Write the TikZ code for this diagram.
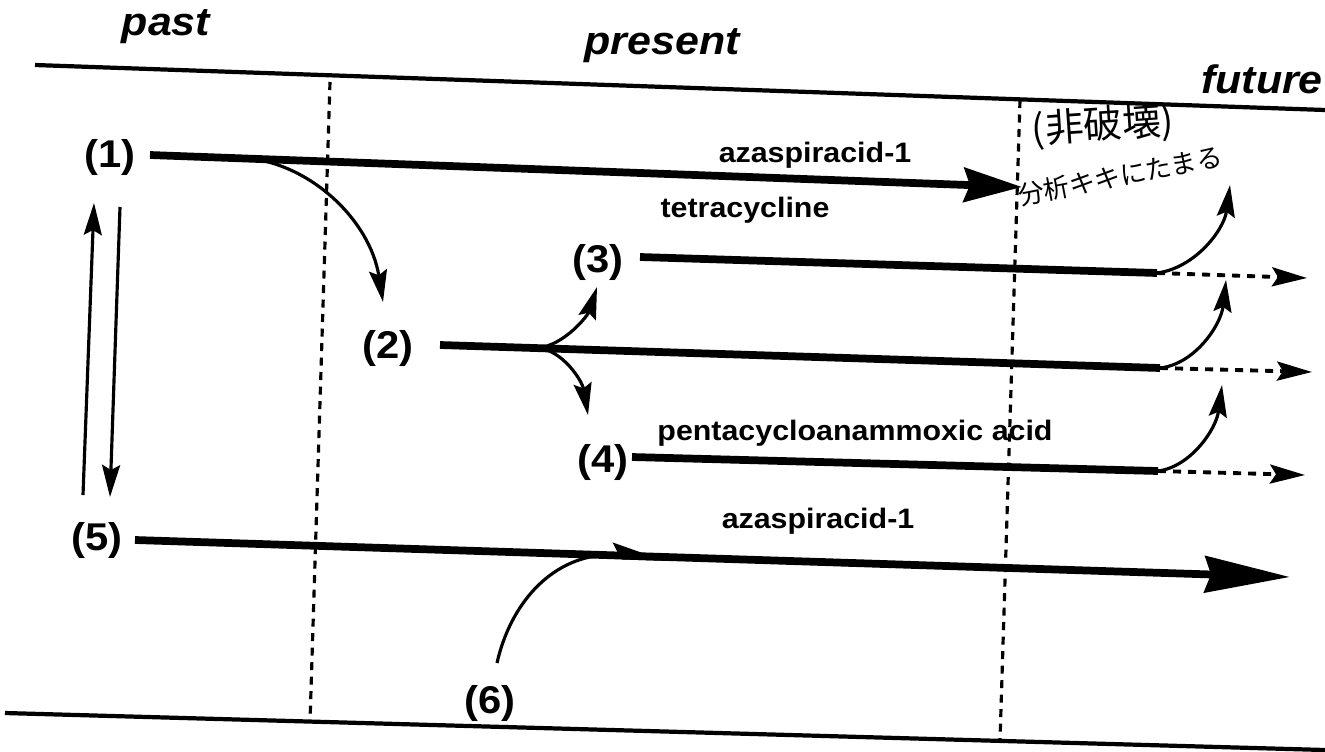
\documentclass[tikz,border=0pt]{standalone}
\usepackage{fontspec}
\usetikzlibrary{arrows.meta,decorations.markings}
\newfontfamily\tlsans{Liberation Sans}[FakeStretch=1.08]
\newfontfamily\tlhand{Noto Sans CJK JP}
\tikzset{
  tl/era/.style={
    font=\tlsans\bfseries\itshape\fontsize{11.3}{13}\selectfont,
    inner sep=0pt
  },
  tl/num/.style={
    font=\tlsans\bfseries\fontsize{11}{12}\selectfont,
    inner sep=0pt
  },
  tl/name/.style={
    font=\tlsans\bfseries\fontsize{8}{9}\selectfont,
    inner sep=0pt
  },
  tl/hand/.style={
    font=\tlhand\fontsize{7.4}{8}\selectfont,
    inner sep=0pt
  },
  tl/rule/.style={line width=1.2pt},
  tl/border/.style={line width=0.9pt, dash pattern=on 0.8mm off 0.65mm},
  tl/main/.style={line width=2.2pt, -{Stealth[length=5.8mm,width=3.4mm,inset=0.6mm]}},
  tl/long/.style={line width=2.2pt, -{Stealth[length=8.5mm,width=3.6mm,inset=0.6mm]}},
  tl/trunk/.style={line width=2.2pt},
  tl/bend/.style={line width=0.9pt, -{Stealth[length=3.2mm,width=1.8mm,inset=0.5mm]}},
  tl/link/.style={line width=0.9pt},
  tl/dash/.style={line width=1.1pt, dash pattern=on 0.8mm off 0.7mm,
    -{Stealth[length=3.5mm,width=1.9mm,inset=0.6mm]}}
}
\begin{document}
\begin{tikzpicture}[x=0.01cm,y=-0.01cm]
  \useasboundingbox (0,0) rectangle (1325,751);
  % frame and era borders
  \draw[tl/rule] (35,65) -- (1325,110);
  \draw[tl/rule] (5,713) -- (1325,750);
  \draw[tl/border] (330,82) -- (310,722);
  \draw[tl/border] (1020,100) -- (1000,740);
  \node[tl/era] (past) at (166,27) {past};
  \node[tl/era] (present) at (662,46) {present};
  \node[tl/era] (future) at (1262,79) {future};
  % numbered states
  \node[tl/num] (n1) at (110,157) {(1)};
  \node[tl/num] (n2) at (388,348) {(2)};
  \node[tl/num] (n3) at (598,262) {(3)};
  \node[tl/num] (n4) at (603,462) {(4)};
  \node[tl/num] (n5) at (97,540) {(5)};
  \node[tl/num] (n6) at (490,703) {(6)};
  % line ends
  \coordinate (s1) at (150,155);  \coordinate (e1) at (1022,187);
  \coordinate (s2) at (440,345);  \coordinate (e2) at (1160,368);
  \coordinate (s3) at (640,257);  \coordinate (e3) at (1157,273);
  \coordinate (s4) at (632,457);  \coordinate (e4) at (1158,471);
  \coordinate (s5) at (135,540);  \coordinate (e5) at (1290,577);
  \coordinate (b1) at (245,158);
  \coordinate (b2) at (538,348);
  \coordinate (j5) at (605,555);
  % main lines
  \draw[tl/main] (s1) -- (e1);
  \draw[tl/trunk] (s2) -- (e2);
  \draw[tl/trunk] (s3) -- (e3);
  \draw[tl/trunk] (s4) -- (e4);
  \draw[tl/long, postaction={decorate},
    decoration={markings, mark=at position 0.46 with
      {\arrow{Stealth[length=4mm,width=2.4mm,inset=0.6mm,left]}}}] (s5) -- (e5);
  % branches
  \draw[tl/bend] (b1) .. controls (310,163) and (370,220) .. (383,302);
  \draw[tl/bend] (b2) .. controls (565,345) and (588,315) .. (597,287);
  \draw[tl/bend] (b2) .. controls (562,350) and (582,380) .. (588,415);
  \draw[tl/bend] (e3) .. controls (1195,268) and (1224,230) .. (1230,185);
  \draw[tl/bend] (e2) .. controls (1195,364) and (1221,325) .. (1226,280);
  \draw[tl/bend] (e4) .. controls (1190,467) and (1216,430) .. (1222,385);
  \draw[tl/dash] (e3) -- (1307,278);
  \draw[tl/dash] (e2) -- (1312,372);
  \draw[tl/dash] (e4) -- (1305,475);
  \draw[tl/link] (497,663) .. controls (510,605) and (550,558) .. (j5);
  % exchange between (1) and (5)
  \draw[tl/bend] (83,495) -- (94,203);
  \draw[tl/bend] (120,207) -- (110,497);
  % compound names
  \node[tl/name] (nameA) at (815,155) {azaspiracid-1};
  \node[tl/name] (nameT) at (745,210) {tetracycline};
  \node[tl/name] (nameP) at (855,433) {pentacycloanammoxic acid};
  \node[tl/name] (nameB) at (818,521) {azaspiracid-1};
  % handwritten note
  \node[tl/hand, font=\tlhand\fontsize{11}{12}\selectfont, rotate=4] (memoA) at (1103,126) {(非破壊)};
  \node[tl/hand, rotate=11] (memoB) at (1120,176) {分析キキにたまる};
\end{tikzpicture}
\end{document}
